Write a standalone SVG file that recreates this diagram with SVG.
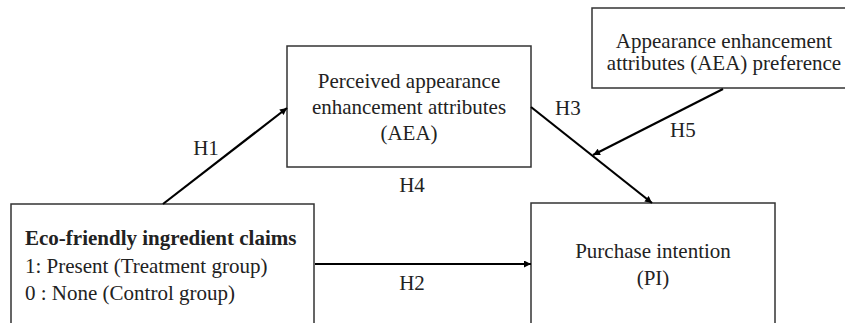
<svg xmlns="http://www.w3.org/2000/svg" width="845" height="323" viewBox="0 0 845 323">
<defs>
<marker id="ah" viewBox="0 0 10 10" refX="10" refY="5" markerWidth="8" markerHeight="7" markerUnits="userSpaceOnUse" orient="auto">
<path d="M0,0 L10,5 L0,10 Z" fill="#000"/>
</marker>
<style>
.box{fill:#fff;stroke:#333;stroke-width:1.5}
.t{font-family:"Liberation Serif","Times New Roman",serif;font-size:21px;fill:#222}
.c{text-anchor:middle}
.b{font-weight:bold}
.e{stroke:#000;stroke-width:2.2;fill:none;marker-end:url(#ah)}
</style>
</defs>
<rect width="845" height="323" fill="#fff"/>
<g id="eco">
<rect class="box" x="11" y="204" width="303" height="130"/>
<text class="t b" x="25" y="245">Eco-friendly ingredient claims</text>
<text class="t" x="25" y="273">1: Present (Treatment group)</text>
<text class="t" x="25" y="300">0 : None (Control group)</text>
</g>
<g id="aea">
<rect class="box" x="287" y="46" width="244" height="121"/>
<text class="t c" x="409" y="88">Perceived appearance</text>
<text class="t c" x="409" y="114">enhancement attributes</text>
<text class="t c" x="409" y="140">(AEA)</text>
</g>
<g id="pref">
<rect class="box" x="592" y="8" width="260" height="80"/>
<text class="t c" x="724" y="48">Appearance enhancement</text>
<text class="t c" x="724" y="70">attributes (AEA) preference</text>
</g>
<g id="pi">
<rect class="box" x="531" y="203" width="244" height="130"/>
<text class="t c" x="653" y="258">Purchase intention</text>
<text class="t c" x="653" y="285">(PI)</text>
</g>
<g id="connectors">
<line class="e" x1="163" y1="204" x2="287" y2="108"/>
<line class="e" x1="315" y1="264" x2="531" y2="264"/>
<line class="e" x1="531" y1="107" x2="652" y2="203"/>
<line class="e" x1="723" y1="89" x2="593" y2="155"/>
</g>
<g id="labels">
<text class="t c" x="206" y="155">H1</text>
<text class="t c" x="412" y="290">H2</text>
<text class="t" x="555" y="115">H3</text>
<text class="t c" x="412" y="192">H4</text>
<text class="t" x="670" y="137">H5</text>
</g>
</svg>
